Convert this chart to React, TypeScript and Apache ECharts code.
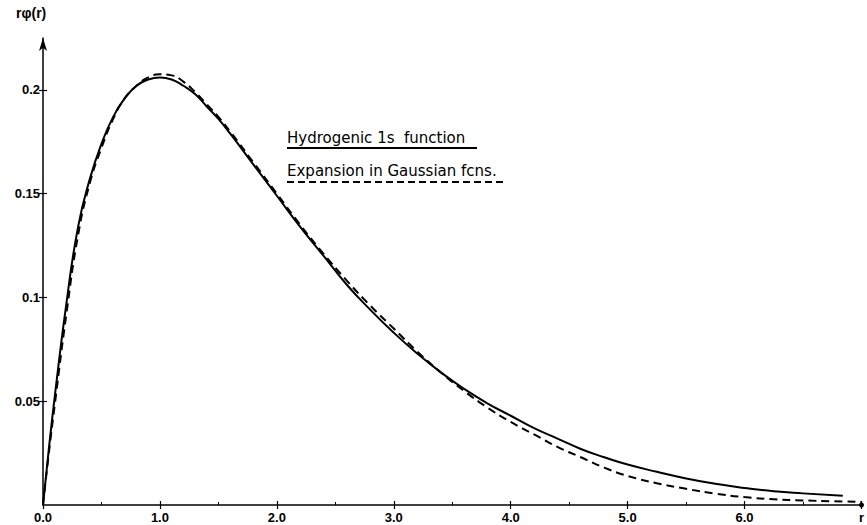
import React, { useEffect, useRef } from "react";
import * as echarts from "echarts";

// r values and rφ(r) for the hydrogenic 1s function (solid)
const solidR = [0, 0.05, 0.1, 0.2, 0.3, 0.4, 0.5, 0.6, 0.7, 0.8, 0.9, 1.0, 1.1, 1.2, 1.3, 1.4, 1.5, 1.6, 1.8, 2.0, 2.2, 2.4, 2.6, 2.8, 3.0, 3.2, 3.4, 3.6, 3.8, 4.0, 4.2, 4.4, 4.6, 4.8, 5.0, 5.25, 5.5, 5.75, 6.0, 6.25, 6.5, 6.84];
const solidV = [0, 0.027, 0.052, 0.097, 0.134, 0.157, 0.174, 0.187, 0.196, 0.202, 0.205, 0.206, 0.205, 0.202, 0.198, 0.192, 0.186, 0.179, 0.164, 0.149, 0.134, 0.12, 0.106, 0.094, 0.083, 0.073, 0.064, 0.056, 0.049, 0.043, 0.037, 0.032, 0.027, 0.023, 0.0195, 0.016, 0.0128, 0.0102, 0.0082, 0.0066, 0.0056, 0.0045];

// Expansion in Gaussian functions (dashed)
const dashR = [0, 0.05, 0.1, 0.2, 0.3, 0.4, 0.5, 0.6, 0.7, 0.8, 0.9, 1.0, 1.1, 1.2, 1.3, 1.4, 1.5, 1.6, 1.8, 2.0, 2.2, 2.4, 2.6, 2.8, 3.0, 3.2, 3.4, 3.6, 3.8, 4.0, 4.2, 4.4, 4.6, 4.8, 5.0, 5.25, 5.5, 5.75, 6.0, 6.25, 6.5, 6.75, 7.0];
const dashV = [0, 0.025, 0.048, 0.092, 0.13, 0.155, 0.172, 0.186, 0.196, 0.202, 0.206, 0.2075, 0.207, 0.204, 0.199, 0.193, 0.187, 0.18, 0.165, 0.15, 0.135, 0.121, 0.108, 0.096, 0.085, 0.074, 0.064, 0.055, 0.047, 0.04, 0.034, 0.028, 0.023, 0.018, 0.014, 0.0105, 0.0078, 0.0055, 0.0038, 0.0028, 0.0022, 0.0018, 0.0015];

const yTicks = [0.05, 0.1, 0.15, 0.2];
const xMax = 7;
const yMax = 0.225;

const legendSolid = "Hydrogenic 1s  function";
const legendDashed = "Expansion in Gaussian fcns.";
const yName = "rφ(r)";
const xName = "r";

const FONT = "'Liberation Sans', 'DejaVu Sans', sans-serif";
const TEXT_FONT = "'DejaVu Sans', sans-serif";

export default function App() {
  const ref = useRef<HTMLDivElement>(null);
  useEffect(() => {
    document.body.style.margin = "0";
    if (!ref.current) return;
    const chart = echarts.init(ref.current, undefined, { renderer: "svg" });
    const solid = solidR.map((r, i) => [r, solidV[i]]);
    const dashed = dashR.map((r, i) => [r, dashV[i]]);
    const labelStyle = { color: "#000", fontFamily: FONT, fontSize: 13, fontWeight: "bold" as const };
    chart.setOption({
      animation: false,
      backgroundColor: "#fff",
      grid: { left: 43, right: 3, top: 38, bottom: 20, containLabel: false },
      xAxis: [
        {
          type: "value",
          min: 0,
          max: xMax,
          interval: 1,
          axisLine: {
            show: true,
            lineStyle: { color: "#000", width: 1.5 },
            symbol: ["none", "circle"],
            symbolSize: [5, 5],
          },
          axisTick: { show: true, inside: false, length: 4, lineStyle: { color: "#000", width: 1.2 } },
          axisLabel: {
            ...labelStyle,
            margin: 6,
            formatter: (v: number) => (v === xMax ? xName : v.toFixed(1)),
          },
          splitLine: { show: false },
        },
        {
          type: "value",
          min: 0,
          max: xMax,
          interval: 1,
          position: "bottom",
          axisLine: { show: false },
          axisTick: { show: true, inside: true, length: 4, lineStyle: { color: "#000", width: 1.2 } },
          minorTick: { show: true, splitNumber: 2, length: 3, lineStyle: { color: "#000", width: 1 } },
          axisLabel: { show: false },
          splitLine: { show: false },
        },
      ],
      yAxis: [
        {
          type: "value",
          min: 0,
          max: yMax,
          axisLine: {
            show: true,
            lineStyle: { color: "#000", width: 1.5 },
            symbol: ["none", "arrow"],
            symbolSize: [6, 13],
          },
          axisTick: {
            show: true,
            inside: false,
            length: 4,
            customValues: yTicks,
            lineStyle: { color: "#000", width: 1.2 },
          },
          axisLabel: { ...labelStyle, margin: 3, customValues: yTicks },
          splitLine: { show: false },
        },
        {
          type: "value",
          min: 0,
          max: yMax,
          position: "left",
          axisLine: { show: false },
          axisTick: {
            show: true,
            inside: true,
            length: 4,
            customValues: yTicks,
            lineStyle: { color: "#000", width: 1.2 },
          },
          axisLabel: { show: false },
          splitLine: { show: false },
        },
      ],
      series: [
        {
          name: legendSolid,
          type: "line",
          data: solid,
          smooth: true,
          showSymbol: false,
          lineStyle: { color: "#000", width: 2 },
        },
        {
          name: legendDashed,
          type: "line",
          data: dashed,
          smooth: true,
          showSymbol: false,
          lineStyle: { color: "#000", width: 2, type: [8, 5] },
        },
      ],
      graphic: [
        {
          type: "text",
          left: 16,
          top: 6,
          style: { text: yName, fill: "#000", font: `bold 14px ${FONT}` },
        },
        {
          type: "text",
          x: 287,
          y: 130,
          style: { text: legendSolid, fill: "#000", font: `15px ${TEXT_FONT}` },
        },
        {
          type: "line",
          shape: { x1: 287, y1: 148, x2: 477, y2: 148 },
          style: { stroke: "#000", lineWidth: 1.8 },
        },
        {
          type: "text",
          x: 287,
          y: 163,
          style: { text: legendDashed, fill: "#000", font: `15px ${TEXT_FONT}` },
        },
        {
          type: "line",
          shape: { x1: 287, y1: 182, x2: 503, y2: 182 },
          style: { stroke: "#000", lineWidth: 1.8, lineDash: [7, 4] },
        },
      ],
    });
    return () => chart.dispose();
  }, []);
  return <div ref={ref} style={{ width: 867, height: 525 }} />;
}
